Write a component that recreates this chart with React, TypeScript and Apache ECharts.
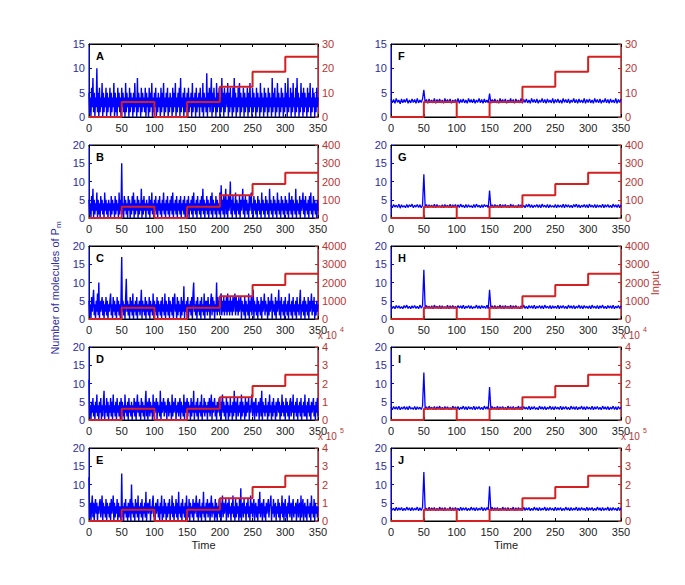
import React, { useEffect, useRef } from "react";
import * as echarts from "echarts";

// ---- data ----
const panelLetters = ["A", "B", "C", "D", "E", "F", "G", "H", "I", "J"];
const stepTimes = [0, 50, 100, 150, 200, 250, 300, 350];
const inputLevels = [0, 6.2, 0, 6.2, 12.4, 18.6, 24.8, 24.8];
const inputScale = [1, 10, 100, 1000, 10000];
const leftMax = [15, 20, 20, 20, 20];
const rightMax = [30, 400, 4000, 40000, 400000];
const rightInterval = [10, 100, 1000, 10000, 100000];
const rightDivisor = [1, 1, 1, 10000, 100000];
const rightExponent = ["", "", "", "4", "5"];

// left column: t = 0..350 step 1
const pmA = [
  5,1,4,0,6,2,8,1,5,0,4,2,10,1,5,0,6,1,4,2,7,0,5,1,4,2,6,0,5,1,
  4,2,6,0,5,1,4,2,7,0,5,1,4,0,6,2,5,1,4,0,6,2,5,1,4,0,7,1,5,2,
  4,0,6,1,5,2,4,0,5,1,7,2,4,0,8,1,5,2,4,0,6,1,5,2,4,1,6,0,5,2,
  4,0,6,1,5,2,7,0,4,1,5,2,6,0,4,1,5,2,4,0,6,1,5,2,7,0,4,1,5,2,
  6,0,4,1,5,2,4,0,6,1,5,2,7,0,4,1,5,2,6,0,8,1,4,2,5,0,6,1,4,2,
  5,0,6,1,4,2,5,0,7,1,4,2,5,0,6,1,4,2,5,0,6,2,4,1,7,0,5,2,4,1,
  9,0,5,2,6,1,4,8,0,5,1,6,2,4,0,7,1,5,2,6,0,4,1,8,2,5,0,6,1,4,
  5,2,7,0,5,1,6,2,4,0,6,1,8,2,5,0,4,1,6,2,7,0,5,1,4,2,6,0,5,1,
  4,2,6,0,5,1,7,2,4,0,6,1,5,2,4,0,6,1,5,2,4,0,7,1,5,2,4,0,6,1,
  5,2,4,0,6,1,5,2,4,0,8,1,5,2,6,0,4,1,7,2,5,0,4,1,6,2,5,0,4,1,
  7,2,5,0,8,1,4,2,6,0,5,1,7,2,4,0,6,1,8,2,5,0,4,1,7,2,5,0,6,1,
  5,2,4,0,6,1,5,2,7,0,4,1,6,2,5,0,4,1,6,2,4,
];
const pmB = [
  5,1,4,0,6,2,8,0,5,1,4,2,7,0,5,1,4,0,6,2,5,1,4,0,7,2,5,1,4,0,
  5,2,4,0,6,1,5,2,4,0,6,1,5,2,4,0,7,1,5,2,15,1,4,0,6,2,5,1,4,0,
  6,2,5,0,4,1,6,2,7,0,5,1,4,2,6,0,5,1,4,2,8,0,5,1,6,2,4,0,5,2,
  4,1,6,0,5,2,7,1,4,0,5,2,6,1,4,0,5,2,6,1,4,0,5,2,7,1,4,0,5,2,
  6,1,4,0,5,2,6,1,7,0,4,2,5,1,6,0,4,2,5,1,6,0,4,2,5,1,6,0,4,2,
  5,1,6,0,4,2,5,1,6,0,7,2,4,1,5,0,6,2,4,1,5,0,6,2,8,1,5,0,4,2,
  6,1,5,0,4,2,6,1,7,0,5,2,4,1,6,0,5,2,4,1,7,0,9,2,5,1,6,0,4,8,
  1,5,0,6,2,4,10,1,5,0,6,2,4,1,7,0,5,2,4,1,6,0,5,2,4,8,1,5,0,6,
  2,5,1,4,0,6,2,5,7,1,4,0,6,2,5,1,4,0,6,2,5,1,4,0,7,2,5,1,4,0,
  6,2,5,1,4,0,8,2,5,1,4,0,6,2,5,1,4,0,7,2,5,1,4,0,6,2,5,1,4,0,
  6,2,5,1,4,0,7,2,5,1,6,0,5,2,4,1,8,0,5,2,4,1,6,0,5,2,4,7,1,5,
  0,6,2,4,1,5,0,6,2,7,1,4,0,6,2,5,1,4,0,5,2,
];
const pmC = [
  5,1,4,0,6,2,5,8,1,4,0,5,2,7,1,10,0,5,2,4,6,1,5,0,4,2,6,1,5,0,
  4,2,5,7,1,4,0,6,2,5,1,4,0,6,2,5,1,4,0,6,17,2,5,1,4,0,6,11,2,5,
  1,4,0,6,2,5,1,7,0,4,2,5,1,6,0,4,2,5,1,4,8,0,5,2,4,1,6,0,5,2,
  4,1,6,0,5,2,4,1,7,0,5,2,4,1,6,0,5,2,4,1,5,0,6,2,4,1,7,0,5,2,
  4,1,6,0,5,2,4,1,6,0,5,7,2,4,0,6,1,5,2,4,0,6,1,5,2,9,0,4,2,5,
  1,6,0,4,2,5,1,6,0,7,10,2,4,1,5,0,6,2,4,1,5,0,6,2,4,1,7,0,5,2,
  5,1,6,2,4,0,5,7,1,6,2,5,0,4,2,10,1,6,2,5,1,6,7,1,5,2,6,1,5,2,
  6,1,7,2,5,1,6,2,5,1,6,2,5,7,1,6,2,5,1,6,2,4,6,0,5,2,4,1,6,0,
  5,2,4,1,7,0,5,2,6,1,4,8,0,5,2,4,1,6,0,5,2,4,1,6,0,5,2,4,7,1,
  5,2,4,0,6,1,5,2,4,7,0,5,2,4,1,6,0,5,2,4,8,1,5,0,6,2,4,1,5,0,
  6,2,4,1,5,0,7,2,4,1,5,0,6,2,4,1,5,0,6,2,4,1,5,8,0,4,2,5,1,6,
  0,5,2,4,1,6,0,5,2,4,7,1,5,2,6,0,4,1,5,2,4,
];
const pmD = [
  11,1,4,0,5,2,6,1,4,0,5,2,7,1,4,0,5,2,6,0,4,1,5,8,0,4,2,6,1,5,
  0,4,2,6,1,5,0,7,2,4,1,5,0,6,2,4,1,5,0,6,2,5,1,4,0,7,2,4,1,5,
  0,6,2,4,1,5,0,4,2,6,1,5,0,4,7,2,5,1,4,0,6,2,5,1,4,0,5,8,1,5,
  0,4,6,1,5,2,4,0,7,1,5,2,4,6,0,5,2,4,1,8,0,5,2,4,6,1,5,2,4,0,
  5,6,1,5,2,4,0,7,1,5,2,4,6,0,4,2,5,1,4,6,0,5,2,4,1,7,0,5,2,4,
  6,1,5,2,4,0,6,1,5,2,8,0,4,2,5,1,6,0,4,2,5,1,7,0,4,2,6,1,5,2,
  4,0,5,2,6,1,4,7,0,5,2,4,6,1,4,0,5,2,4,6,1,5,0,4,7,2,5,1,4,0,
  6,2,5,0,4,1,6,2,4,0,5,1,8,2,5,0,4,6,1,4,2,5,0,7,1,5,2,4,0,6,
  1,5,2,4,6,0,4,2,5,7,1,4,5,0,4,6,1,4,2,5,0,4,6,1,8,0,5,2,4,1,
  6,2,4,0,5,1,7,2,4,0,5,1,6,2,4,0,5,1,4,6,2,5,0,4,1,7,2,5,1,4,
  0,6,2,5,1,4,0,5,6,1,5,2,7,0,4,2,5,1,6,0,4,2,5,1,6,0,4,2,5,1,
  7,1,4,0,5,2,6,1,4,0,5,2,4,6,1,4,0,5,2,6,1,
];
const pmE = [
  12,1,5,0,4,7,1,5,0,4,6,2,5,0,4,2,5,6,1,4,7,0,5,2,4,1,6,0,5,2,
  4,1,5,0,6,2,4,7,0,5,1,4,2,6,0,5,1,4,2,0,13,1,4,0,5,2,6,1,4,0,
  5,1,4,6,0,10,2,5,1,4,0,6,2,5,1,7,0,4,2,5,1,6,0,4,2,5,1,8,0,4,
  5,2,4,6,0,4,2,5,7,1,4,0,5,2,4,6,1,4,0,5,2,7,0,4,1,6,2,5,0,4,
  1,5,2,6,0,4,2,7,1,5,0,4,2,6,1,5,0,8,2,4,1,5,0,6,2,4,1,5,0,7,
  2,4,1,6,0,5,2,4,1,6,0,5,2,4,7,1,5,0,4,6,1,4,0,5,2,8,1,4,0,5,
  2,6,1,4,5,0,4,7,1,5,2,4,0,6,1,5,0,4,2,6,1,5,0,4,7,1,5,2,4,6,
  0,4,5,1,6,2,4,0,5,2,7,1,4,0,6,1,5,2,4,0,6,1,9,0,4,5,1,6,2,4,
  0,5,2,6,1,4,0,7,2,5,1,4,6,0,4,5,1,4,0,6,2,8,1,4,5,0,4,6,1,4,
  0,5,2,4,6,1,4,5,7,0,4,2,6,1,4,5,0,4,2,6,1,5,0,4,2,7,1,5,0,4,
  6,1,4,0,5,2,7,1,4,5,0,4,6,1,4,2,5,0,4,6,1,4,5,0,7,1,4,6,0,4,
  5,1,4,0,6,2,4,1,5,0,7,2,4,1,6,0,5,2,4,1,4,
];

// right column: t = 0..350 step 2
const pmF = [
  3.7,2.9,3.6,2.8,3.8,3.0,3.5,2.7,3.7,2.9,3.6,3.0,3.8,2.8,3.5,2.9,3.7,3.0,3.6,2.8,3.8,2.9,3.5,3.0,3.7,
  5.6,2.9,3.6,2.8,3.7,3.0,3.5,2.9,3.8,2.8,3.6,3.0,3.7,2.9,3.5,2.8,3.8,3.0,3.6,2.9,3.7,2.8,3.5,3.0,3.6,
  2.9,3.8,2.8,3.6,3.0,3.7,2.9,3.5,2.8,3.8,3.0,3.6,2.9,3.7,2.8,3.5,3.0,3.8,2.9,3.6,2.8,3.7,3.0,3.5,2.9,
  4.8,2.8,3.6,3.0,3.7,2.9,3.5,2.8,3.8,3.0,3.6,2.9,3.7,2.8,3.5,3.0,3.8,2.9,3.6,2.8,3.7,3.0,3.5,2.9,3.8,
  2.8,3.6,3.0,3.7,2.9,3.5,2.8,3.8,3.0,3.6,2.9,3.7,2.8,3.5,3.0,3.8,2.9,3.6,2.8,3.7,3.0,3.5,2.9,3.8,2.8,
  3.6,3.0,3.7,2.9,3.5,2.8,3.8,3.0,3.6,2.9,3.7,2.8,3.5,3.0,3.8,2.9,3.6,2.8,3.7,3.0,3.5,2.9,3.8,2.8,3.6,
  3.0,3.7,2.9,3.5,2.8,3.8,3.0,3.6,2.9,3.7,2.8,3.5,3.0,3.8,2.9,3.6,2.8,3.7,3.0,3.5,2.9,3.8,2.8,3.6,3.0,
  3.7,
];
const pmG = [
  3.6,2.8,3.7,3.0,3.5,2.9,3.8,2.7,3.6,3.0,3.4,2.8,3.7,2.9,3.6,3.1,3.8,2.8,3.5,3.0,3.7,2.9,3.6,2.8,3.5,
  12.0,2.9,3.7,2.8,3.6,3.0,3.5,2.9,3.8,2.8,3.7,3.0,3.4,2.9,3.6,2.8,3.7,3.0,3.5,2.9,3.8,2.8,3.6,3.0,3.7,
  2.8,3.6,2.9,3.8,3.0,3.5,2.8,3.7,2.9,3.6,3.0,3.4,2.8,3.7,2.9,3.8,3.0,3.5,2.8,3.6,2.9,3.7,3.1,3.5,2.8,
  7.5,2.9,3.6,2.8,3.7,3.0,3.5,2.9,3.8,2.8,3.6,3.0,3.7,2.9,3.5,2.8,3.8,3.0,3.6,2.9,3.4,2.8,3.7,3.0,3.6,
  2.9,3.5,2.8,3.7,3.0,3.8,2.9,3.6,2.8,3.5,3.0,3.7,2.9,3.6,2.8,3.8,3.0,3.5,2.9,3.7,2.8,3.6,3.0,3.4,2.9,
  3.7,2.8,3.6,3.0,3.5,2.9,3.8,2.8,3.7,3.0,3.6,2.9,3.5,2.8,3.7,3.0,3.8,2.9,3.6,2.8,3.5,3.0,3.7,2.9,3.6,
  2.8,3.8,3.0,3.5,2.9,3.7,2.8,3.6,3.0,3.5,2.9,3.8,2.8,3.6,3.0,3.7,2.9,3.5,2.8,3.8,3.0,3.6,2.9,3.7,2.8,
  3.6,
];
const pmH = [
  3.8,2.9,3.5,2.8,3.7,3.0,3.6,2.9,3.4,2.8,3.7,3.0,3.8,2.9,3.5,2.8,3.6,3.0,3.7,2.9,3.5,2.8,3.8,3.0,3.6,
  13.5,2.8,3.7,3.0,3.5,2.9,3.6,2.8,3.8,3.0,3.5,2.9,3.7,2.8,3.6,3.0,3.4,2.9,3.8,2.8,3.6,3.0,3.7,2.9,3.5,
  2.8,3.7,3.0,3.6,2.9,3.8,2.8,3.5,3.0,3.7,2.9,3.6,2.8,3.4,3.0,3.8,2.9,3.6,2.8,3.7,3.0,3.5,2.9,3.8,2.8,
  8.0,3.0,3.6,2.9,3.7,2.8,3.5,3.0,3.8,2.9,3.6,2.8,3.7,3.0,3.5,2.9,3.8,2.8,3.6,3.0,3.7,2.9,3.4,2.8,3.6,
  3.0,3.8,2.9,3.5,2.8,3.7,3.0,3.6,2.9,3.8,2.8,3.5,3.0,3.7,2.9,3.6,2.8,3.8,3.0,3.5,2.9,3.7,2.8,3.6,3.0,
  3.5,2.9,3.8,2.8,3.6,3.0,3.7,2.9,3.5,2.8,3.8,3.0,3.6,2.9,3.7,2.8,3.5,3.0,3.8,2.9,3.6,2.8,3.7,3.0,3.5,
  2.9,3.6,2.8,3.8,3.0,3.5,2.9,3.7,2.8,3.6,3.0,3.8,2.9,3.5,2.8,3.7,3.0,3.6,2.9,3.8,2.8,3.5,3.0,3.7,2.9,
  3.6,
];
const pmI = [
  3.5,2.8,3.7,3.0,3.6,2.9,3.8,2.8,3.5,3.0,3.7,2.9,3.6,2.8,3.8,3.0,3.4,2.9,3.7,2.8,3.6,3.0,3.5,2.9,3.8,
  13.0,2.9,3.6,2.8,3.8,3.0,3.5,2.9,3.7,2.8,3.6,3.0,3.8,2.9,3.5,2.8,3.7,3.0,3.6,2.9,3.4,2.8,3.8,3.0,3.6,
  2.9,3.7,2.8,3.5,3.0,3.8,2.9,3.6,2.8,3.7,3.0,3.5,2.9,3.8,2.8,3.6,3.0,3.7,2.9,3.5,2.8,3.8,3.0,3.6,2.9,
  9.0,2.8,3.7,3.0,3.5,2.9,3.8,2.8,3.6,3.0,3.7,2.9,3.5,2.8,3.8,3.0,3.6,2.9,3.7,2.8,3.5,3.0,3.8,2.9,3.6,
  2.8,3.7,3.0,3.5,2.9,3.8,2.8,3.6,3.0,3.7,2.9,3.4,2.8,3.8,3.0,3.6,2.9,3.7,2.8,3.5,3.0,3.8,2.9,3.6,2.8,
  3.7,3.0,3.5,2.9,3.8,2.8,3.6,3.0,3.7,2.9,3.5,2.8,3.8,3.0,3.6,2.9,3.7,2.8,3.5,3.0,3.8,2.9,3.6,2.8,3.7,
  3.0,3.5,2.9,3.8,2.8,3.6,3.0,3.7,2.9,3.5,2.8,3.8,3.0,3.6,2.9,3.7,2.8,3.5,3.0,3.8,2.9,3.6,2.8,3.7,3.0,
  3.5,
];
const pmJ = [
  3.7,3.0,3.5,2.8,3.8,2.9,3.6,3.0,3.7,2.8,3.5,2.9,3.8,3.0,3.6,2.8,3.7,2.9,3.5,3.0,3.8,2.8,3.6,2.9,3.7,
  13.4,3.0,3.5,2.8,3.8,2.9,3.6,3.0,3.7,2.8,3.5,2.9,3.8,3.0,3.6,2.8,3.7,2.9,3.4,3.0,3.8,2.8,3.6,2.9,3.7,
  3.0,3.5,2.8,3.8,2.9,3.6,3.0,3.7,2.8,3.5,2.9,3.8,3.0,3.6,2.8,3.7,2.9,3.5,3.0,3.8,2.8,3.6,2.9,3.7,3.0,
  9.5,2.8,3.8,2.9,3.6,3.0,3.7,2.8,3.5,2.9,3.8,3.0,3.6,2.8,3.7,2.9,3.5,3.0,3.8,2.8,3.6,2.9,3.7,3.0,3.5,
  2.8,3.8,2.9,3.6,3.0,3.7,2.8,3.5,2.9,3.8,3.0,3.6,2.8,3.7,2.9,3.5,3.0,3.8,2.8,3.6,2.9,3.7,3.0,3.5,2.8,
  3.8,2.9,3.6,3.0,3.7,2.8,3.5,2.9,3.8,3.0,3.6,2.8,3.7,2.9,3.5,3.0,3.8,2.8,3.6,2.9,3.7,3.0,3.5,2.8,3.8,
  2.9,3.6,3.0,3.7,2.8,3.5,2.9,3.8,3.0,3.6,2.8,3.7,2.9,3.5,3.0,3.8,2.8,3.6,2.9,3.7,3.0,3.5,2.8,3.8,2.9,
  3.6,
];

const leftSeries = [pmA, pmB, pmC, pmD, pmE];
const rightSeries = [pmF, pmG, pmH, pmI, pmJ];

// ---- styling ----
const FONT = "'Liberation Sans', Arial, sans-serif";
const BLUE = "#0000ff";
const RED = "#d42020";
const BLUE_TXT = "#2e2e9e";
const RED_TXT = "#b83434";
const colLeft = [89, 391];
const colWidth = [229, 230];
const rowTop = [44, 145, 246, 347, 448];
const gridH = 73;

function buildOption() {
  const grid: any[] = [];
  const xAxis: any[] = [];
  const yAxis: any[] = [];
  const series: any[] = [];
  const graphic: any[] = [];

  for (let col = 0; col < 2; col++) {
    for (let row = 0; row < 5; row++) {
      const i = col * 5 + row;
      const left = colLeft[col];
      const width = colWidth[col];
      const top = rowTop[row];
      grid.push({
        left, top, width, height: gridH,
        show: true, borderColor: "#000", borderWidth: 1, backgroundColor: "#fff",
      });
      const xBase = {
        gridIndex: i, type: "value", min: 0, max: 350, interval: 50,
        splitLine: { show: false },
        axisLine: { show: true, onZero: false, lineStyle: { color: "#000", width: 1 } },
        axisTick: { show: true, inside: true, length: 3, lineStyle: { color: "#000" } },
      };
      xAxis.push({
        ...xBase, position: "bottom",
        axisLabel: { show: true, fontSize: 11, color: "#222", margin: 5, fontFamily: FONT },
      });
      xAxis.push({ ...xBase, position: "top", axisLabel: { show: false } });
      yAxis.push({
        gridIndex: i, type: "value", position: "left", min: 0, max: leftMax[row], interval: 5,
        splitLine: { show: false },
        axisLine: { show: true, onZero: false, lineStyle: { color: BLUE, width: 1 } },
        axisTick: { show: true, inside: true, length: 3, lineStyle: { color: BLUE } },
        axisLabel: { fontSize: 11, color: BLUE_TXT, margin: 4, fontFamily: FONT },
      });
      const div = rightDivisor[row];
      yAxis.push({
        gridIndex: i, type: "value", position: "right", min: 0, max: rightMax[row],
        interval: rightInterval[row],
        splitLine: { show: false },
        axisLine: { show: true, onZero: false, lineStyle: { color: RED, width: 1 } },
        axisTick: { show: true, inside: true, length: 3, lineStyle: { color: RED } },
        axisLabel: {
          fontSize: 11, color: RED_TXT, margin: 4, fontFamily: FONT,
          formatter: (v: number) => String(Math.round((v / div) * 100) / 100),
        },
      });

      const vals = col === 0 ? leftSeries[row] : rightSeries[row];
      const dt = col === 0 ? 1 : 2;
      series.push({
        type: "line", xAxisIndex: 2 * i, yAxisIndex: 2 * i,
        data: vals.map((v, k) => [k * dt, v]),
        symbol: "none", showSymbol: false, silent: true, z: 2,
        lineStyle: { color: BLUE, width: col === 0 ? 1.4 : 1.3 },
      });
      series.push({
        type: "line", step: "end", xAxisIndex: 2 * i, yAxisIndex: 2 * i + 1,
        data: stepTimes.map((t, k) => [t, inputLevels[k] * inputScale[row]]),
        symbol: "none", showSymbol: false, silent: true, z: 3,
        lineStyle: { color: RED, width: 2 },
      });

      graphic.push({
        type: "text", x: left + 7, y: top + 12, z: 10,
        style: {
          text: panelLetters[i], fontSize: 11, fontWeight: "bold", fontFamily: FONT,
          fill: "#000", align: "left", verticalAlign: "middle",
        },
      });
      if (rightExponent[row]) {
        graphic.push({
          type: "text", x: left + width, y: top - 12, z: 10,
          style: {
            text: "x 10", fontSize: 10, fontFamily: FONT, fill: RED_TXT,
            align: "left", verticalAlign: "middle",
          },
        });
        graphic.push({
          type: "text", x: left + width + 22, y: top - 18, z: 10,
          style: {
            text: rightExponent[row], fontSize: 7, fontFamily: FONT, fill: RED_TXT,
            align: "left", verticalAlign: "middle",
          },
        });
      }
    }
  }

  graphic.push({
    type: "text", x: 55, y: 288, rotation: Math.PI / 2, z: 10,
    style: {
      text: "Number of molecules of P{s|m}", fontSize: 11, fontFamily: FONT, fill: BLUE_TXT,
      align: "center", verticalAlign: "middle", lineHeight: 14,
      rich: { s: { fontSize: 8, fontFamily: FONT, fill: BLUE_TXT, verticalAlign: "bottom", lineHeight: 8 } },
    },
  });
  graphic.push({
    type: "text", x: 655, y: 283, rotation: Math.PI / 2, z: 10,
    style: {
      text: "Input", fontSize: 11, fontFamily: FONT, fill: RED_TXT,
      align: "center", verticalAlign: "middle",
    },
  });
  for (let col = 0; col < 2; col++) {
    graphic.push({
      type: "text", x: colLeft[col] + colWidth[col] / 2, y: 545, z: 10,
      style: {
        text: "Time", fontSize: 11, fontFamily: FONT, fill: "#222",
        align: "center", verticalAlign: "middle",
      },
    });
  }

  return { animation: false, backgroundColor: "#fff", grid, xAxis, yAxis, series, graphic };
}

export default function App() {
  const ref = useRef<HTMLDivElement>(null);
  useEffect(() => {
    if (!ref.current) return;
    const chart = echarts.init(ref.current, undefined, { renderer: "svg" });
    chart.setOption(buildOption() as any);
    return () => chart.dispose();
  }, []);
  return (
    <div
      ref={ref}
      style={{ position: "fixed", left: 0, top: 0, width: 685, height: 585, background: "#fff" }}
    />
  );
}
